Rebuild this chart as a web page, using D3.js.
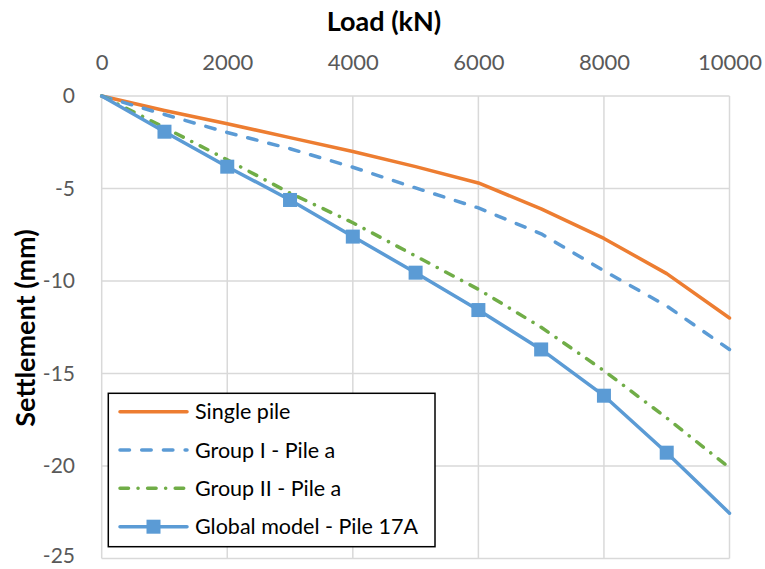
<!DOCTYPE html>
<html><head><meta charset="utf-8">
<script src="https://cdn.jsdelivr.net/npm/d3@7/dist/d3.min.js"></script>
<style>body{margin:0;background:#fff;} svg{display:block;font-family:Lato,"Open Sans",sans-serif;}</style>
</head><body>
<svg id="c" width="765" height="569"></svg>
<script>
const loads = [0,1000,2000,3000,4000,5000,6000,7000,8000,9000,10000];
const singlePile = [0,-0.78,-1.5,-2.25,-3.0,-3.82,-4.7,-6.1,-7.7,-9.6,-12.0];
const groupI = [0,-1.0,-1.97,-2.85,-3.85,-4.97,-6.05,-7.45,-9.45,-11.35,-13.7];
const groupII = [0,-1.7,-3.45,-5.25,-6.85,-8.65,-10.45,-12.5,-14.85,-17.4,-20.1];
const globalModel = [0,-1.93,-3.82,-5.62,-7.6,-9.55,-11.57,-13.7,-16.2,-19.28,-22.55];
const xTicks = [0,2000,4000,6000,8000,10000];
const yTicks = [0,-5,-10,-15,-20,-25];
const seriesNames = ["Single pile","Group I - Pile a","Group II - Pile a","Global model - Pile 17A"];

const svg = d3.select("#c");
const L=101.7,R=729.5,T=96,B=558.5;
const x = d3.scaleLinear().domain([0,10000]).range([L,R]);
const y = d3.scaleLinear().domain([0,-25]).range([T,B]);
const fmt = d => String(d);

// gridlines
svg.append("g").selectAll("line").data(xTicks).join("line")
  .attr("x1",d=>x(d)).attr("x2",d=>x(d)).attr("y1",T).attr("y2",B)
  .attr("stroke","#D9D9D9").attr("stroke-width",1.5);
svg.append("g").selectAll("line").data(yTicks).join("line")
  .attr("x1",L).attr("x2",R).attr("y1",d=>y(d)).attr("y2",d=>y(d))
  .attr("stroke","#D9D9D9").attr("stroke-width",1.5);

// axes (labels only)
const xa = svg.append("g").attr("transform",`translate(0,${T-26})`)
  .call(d3.axisTop(x).tickValues(xTicks).tickSize(0).tickPadding(0).tickFormat(fmt));
xa.select(".domain").remove();
xa.selectAll("text").attr("font-size",22).attr("fill","#595959").attr("font-family","Lato");
const ya = svg.append("g").attr("transform",`translate(75,0)`)
  .call(d3.axisLeft(y).tickValues(yTicks).tickSize(0).tickPadding(0).tickFormat(fmt));
ya.select(".domain").remove();
ya.selectAll("text").attr("font-size",21).attr("fill","#595959").attr("font-family","Lato")
  .attr("dy", d => d === -25 ? "0.2em" : "0.32em");

// titles
svg.append("text").attr("x",384).attr("y",31).attr("text-anchor","middle")
  .attr("font-size",27).attr("font-weight","bold").attr("fill","#000").text("Load (kN)");
svg.append("text").attr("transform","translate(35,328) rotate(-90)").attr("text-anchor","middle")
  .attr("font-size",27).attr("font-weight","bold").attr("fill","#000").text("Settlement (mm)");

const line = d3.line().x(d=>x(d[0])).y(d=>y(d[1]));
const zip = v => loads.map((l,i)=>[l,v[i]]);
const styles = [
  {data:singlePile,color:"#ED7D31",dash:null},
  {data:groupI,color:"#5B9BD5",dash:"9.5,12.2"},
  {data:groupII,color:"#70AD47",dash:"8.5,9.5,0.1,9.5"},
  {data:globalModel,color:"#5B9BD5",dash:null,marker:true}
];
const plot = svg.append("g");
styles.forEach(s=>{
  plot.append("path").datum(zip(s.data)).attr("d",line).attr("fill","none")
    .attr("stroke",s.color).attr("stroke-width",3.5).attr("stroke-linecap","round")
    .attr("stroke-linejoin","round").attr("stroke-dasharray",s.dash);
});
const gm = zip(globalModel).filter(d=>d[0]>0 && d[0]<10000);
plot.selectAll("rect.m").data(gm).join("rect").attr("class","m")
  .attr("x",d=>x(d[0])-7).attr("y",d=>y(d[1])-7).attr("width",14).attr("height",14)
  .attr("fill","#5B9BD5");

// legend
const lg = svg.append("g");
lg.append("rect").attr("x",108.3).attr("y",393.3).attr("width",326.7).attr("height",153.4)
  .attr("fill","#fff").attr("stroke","#000").attr("stroke-width",1.5);
const rowY = [411.7,450,488.3,526.7];
styles.forEach((s,i)=>{
  lg.append("line").attr("x1",120).attr("x2",187).attr("y1",rowY[i]).attr("y2",rowY[i])
    .attr("stroke",s.color).attr("stroke-width",3.5).attr("stroke-linecap","round")
    .attr("stroke-dasharray",s.dash);
  if(s.marker) lg.append("rect").attr("x",153.5-7).attr("y",rowY[i]-7).attr("width",14).attr("height",14).attr("fill",s.color);
  lg.append("text").attr("x",195).attr("y",rowY[i]).attr("dy","0.35em")
    .attr("font-size",21.5).attr("fill","#000").text(seriesNames[i]);
});
</script>
</body></html>
